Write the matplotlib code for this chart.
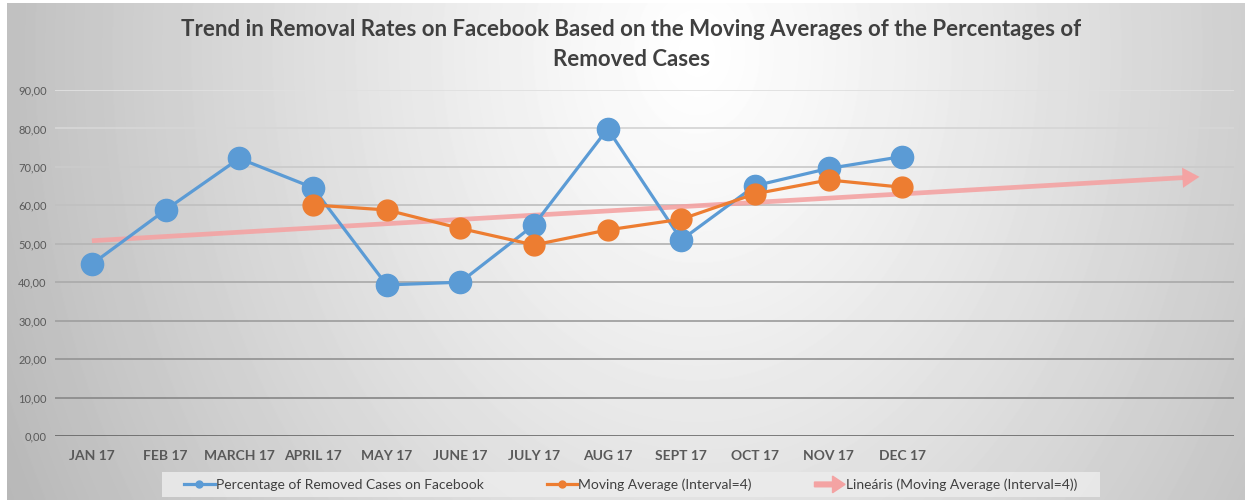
import numpy as np
import matplotlib
matplotlib.use("Agg")
import matplotlib.pyplot as plt
from matplotlib.lines import Line2D
from matplotlib.patches import Rectangle, FancyArrow
from matplotlib.legend_handler import HandlerBase

plt.rcParams['font.family'] = ['Lato', 'DejaVu Sans']

# data
months = ["JAN 17", "FEB 17", "MARCH 17", "APRIL 17", "MAY 17", "JUNE 17",
          "JULY 17", "AUG 17", "SEPT 17", "OCT 17", "NOV 17", "DEC 17"]
removed_pct = [44.7, 58.8, 72.2, 64.6, 39.3, 40.0, 54.9, 79.9, 51.0, 65.1, 69.6, 72.7]
# moving average (interval 4) starts at APRIL
mavg_months = months[3:]
mavg_pct = [60.1, 58.8, 54.0, 49.7, 53.6, 56.4, 63.0, 66.6, 64.7]
forecast_periods = 4

blue = "#5B9BD5"
orange = "#ED7D31"
pink = "#F4A3A3"
txt = "#595959"

fig = plt.figure(figsize=(12.5, 5.03), dpi=100, facecolor="white")

# background gradient panel
bg = fig.add_axes([7 / 1250, 3 / 503, 1238 / 1250, 497 / 503], zorder=-5)
bg.axis("off")
H, W = 497, 1238
yy, xx = np.mgrid[0:H, 0:W]
r = np.sqrt(((xx - 690) / 700.0) ** 2 + ((yy - 50) / 900.0) ** 2)
shade = np.clip(1 - 0.25 * r ** 1.15, 0, 1)
bg.imshow(shade, cmap="gray", vmin=0, vmax=1, aspect="auto", interpolation="bilinear")

ax = fig.add_axes([55 / 1250, 1 - 436 / 503, 1179 / 1250, 346 / 503])
ax.set_facecolor("none")

x_all = np.arange(len(months))
x_mavg = x_all[3:]

# gridlines, lighter toward top
for i, v in enumerate(range(10, 100, 10)):
    g = 0.55 + 0.33 * (i / 8.0)
    ax.axhline(v, color=(g, g, g), lw=1.3, zorder=1)
ax.axhline(0, color="#5a5a5a", lw=1.8, zorder=2)

# linear trend of the moving average, with forward forecast
coef = np.polyfit(x_mavg, mavg_pct, 1)
xt = np.array([0, len(months) - 1 + forecast_periods])
yt = np.polyval(coef, xt)
ax.plot([xt[0], xt[1] - 0.15], [yt[0], yt[1] - 0.15 * coef[0]], color=pink, lw=3.4,
        alpha=0.9, zorder=3, solid_capstyle="butt")
ax.annotate("", xy=(xt[1] + 0.03, yt[1]), xytext=(xt[1] - 0.25, yt[1] - 0.25 * coef[0]),
            arrowprops=dict(arrowstyle="-|>,head_length=1.0,head_width=0.6",
                            color=pink, lw=0.1, shrinkA=0, shrinkB=0,
                            mutation_scale=12), zorder=3)

ax.plot(x_all, removed_pct, color=blue, lw=2.3, marker="o", ms=16, zorder=4)
ax.plot(x_mavg, mavg_pct, color=orange, lw=2.3, marker="o", ms=15, zorder=5)

ax.set_xlim(-0.5, 15.5)
ax.set_ylim(0, 90)
ax.set_yticks(range(0, 100, 10))
ax.set_yticklabels([f"{v},00" for v in range(0, 100, 10)], fontsize=8, color=txt)
ax.set_xticks(x_all)
ax.set_xticklabels(months, fontsize=10, fontweight="bold", color=txt)
ax.tick_params(length=0, pad=10)
ax.tick_params(axis="y", pad=6)
for s in ax.spines.values():
    s.set_visible(False)

fig.text(0.505, 1 - 30 / 503, "Trend in Removal Rates on Facebook Based on the Moving Averages of the Percentages of",
         ha="center", va="center", fontsize=16, fontweight="bold", color="#404040")
fig.text(0.505, 1 - 59 / 503, "Removed Cases", ha="center", va="center",
         fontsize=16, fontweight="bold", color="#404040")

# legend
fig.patches.append(Rectangle((162 / 1250, 1 - 497 / 503), 938 / 1250, 25 / 503,
                             transform=fig.transFigure, facecolor="#ececec",
                             edgecolor="none", alpha=0.85, zorder=0))


class ArrowHandler(HandlerBase):
    def create_artists(self, legend, orig, xd, yd, width, height, fontsize, trans):
        a = FancyArrow(-xd, -yd + height / 2, width, 0, width=3.4,
                       head_width=12, head_length=9, length_includes_head=True,
                       color=pink, transform=trans)
        return [a]


h1 = Line2D([], [], color=blue, lw=2.3, marker="o", ms=5)
h2 = Line2D([], [], color=orange, lw=2.3, marker="o", ms=5)
h3 = Rectangle((0, 0), 1, 1)
fig.legend([h1, h2, h3],
           ["Percentage of Removed Cases on Facebook", "Moving Average (Interval=4)",
            "Lineáris (Moving Average (Interval=4))"],
           handler_map={h3: ArrowHandler()},
           loc="center", bbox_to_anchor=(631 / 1250, 1 - 485 / 503), ncol=3,
           frameon=False, fontsize=10, handlelength=2.2, handletextpad=0.1,
           columnspacing=4.5, labelcolor="#404040")

fig.savefig("out.png", dpi=100, facecolor="white")
